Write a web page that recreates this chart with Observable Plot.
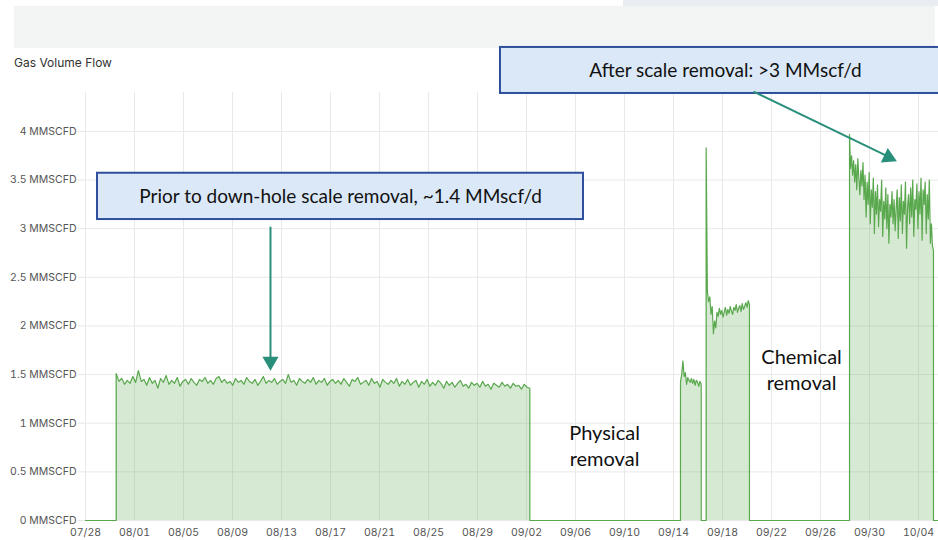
<!DOCTYPE html>
<html><head><meta charset="utf-8">
<script src="https://cdn.jsdelivr.net/npm/d3@7"></script>
<script src="https://cdn.jsdelivr.net/npm/@observablehq/plot@0.6"></script>
<style>
body{margin:0;background:#fff;}
#wrap{position:relative;width:938px;height:540px;overflow:hidden;font-family:Inter,sans-serif;}
#corner{position:absolute;left:623px;top:0;width:315px;height:6px;background:#e9ecf0;}
#band{position:absolute;left:14px;top:6px;width:921px;height:42px;background:#f3f4f4;}
#title{position:absolute;left:14px;top:55px;font-size:12px;line-height:15px;color:#333;}
#chart{position:absolute;left:0;top:0;}
</style></head>
<body>
<div id="wrap">
  <div id="corner"></div>
  <div id="band"></div>
  <div id="title">Gas Volume Flow</div>
  <div id="chart"></div>
</div>
<script>
// ---- axis ticks ----
const xTickLabels = ["07/28","08/01","08/05","08/09","08/13","08/17","08/21","08/25","08/29","09/02","09/06","09/10","09/14","09/18","09/22","09/26","09/30","10/04"];
const yTickValues = [0,0.5,1,1.5,2,2.5,3,3.5,4];
const yUnit = "MMSCFD";
const domainStart = "2024-07-28T00:00Z";
const domainEnd = "2024-10-05T15:10Z";

// ---- flow periods (MMSCFD) ----
const beforeStart = "2024-07-30T12:10Z", beforeEnd = "2024-09-02T06:30Z";
const beforeFlow = [
 1.51,1.43,1.46,1.40,1.44,1.41,1.48,1.42,1.54,1.43,
 1.45,1.39,1.47,1.41,1.44,1.36,1.46,1.42,1.49,1.40,
 1.44,1.41,1.47,1.38,1.43,1.45,1.40,1.46,1.42,1.39,
 1.45,1.43,1.47,1.41,1.44,1.40,1.46,1.48,1.42,1.45,
 1.41,1.43,1.39,1.46,1.42,1.44,1.40,1.47,1.43,1.41,
 1.45,1.39,1.43,1.48,1.41,1.44,1.42,1.46,1.40,1.43,
 1.45,1.41,1.50,1.42,1.44,1.39,1.46,1.43,1.41,1.45,
 1.42,1.47,1.40,1.44,1.42,1.46,1.39,1.43,1.45,1.41,
 1.44,1.40,1.46,1.42,1.38,1.45,1.43,1.47,1.40,1.42,
 1.44,1.39,1.46,1.41,1.43,1.37,1.45,1.42,1.40,1.44,
 1.41,1.46,1.38,1.43,1.40,1.45,1.39,1.42,1.44,1.37,
 1.43,1.40,1.45,1.38,1.42,1.39,1.44,1.41,1.36,1.43,
 1.39,1.42,1.37,1.41,1.44,1.38,1.40,1.36,1.42,1.39,
 1.41,1.37,1.43,1.38,1.40,1.35,1.41,1.39,1.37,1.42,
 1.38,1.40,1.36,1.41,1.38,1.39,1.35,1.40,1.37,1.36];

const trialStart = "2024-09-14T13:40Z", trialEnd = "2024-09-16T06:15Z";
const trialFlow = [1.42,1.50,1.64,1.48,1.52,1.40,1.47,1.44,1.42,1.46,1.41,1.45,1.39,1.44,1.42,1.38,1.43,1.40];

const chemStart = "2024-09-16T16:00Z", chemEnd = "2024-09-20T04:50Z";
const chemFlow = [3.83,2.35,2.25,2.30,2.12,2.20,1.92,2.05,1.98,2.14,2.10,2.18,2.12,2.16,2.09,2.14,2.19,2.11,2.17,2.13,2.20,2.15,2.12,2.19,2.16,2.22,2.14,2.18,2.21,2.15,2.23,2.17,2.20,2.24,2.19,2.26,2.22];

const afterStart = "2024-09-28T08:50Z", afterEnd = "2024-10-05T05:20Z";
const afterFlow = [3.97,3.62,3.75,3.55,3.70,3.48,3.66,3.40,3.72,3.52,3.35,3.60,3.44,3.68,3.30,3.55,3.12,3.48,3.25,3.58,3.05,3.40,3.22,3.52,2.95,3.38,3.15,3.45,3.02,3.30,3.18,3.50,2.92,3.28,3.10,3.42,3.00,3.35,2.85,3.25,3.12,3.38,3.05,3.30,2.98,3.20,3.40,2.90,3.32,3.08,3.45,2.95,3.28,3.15,3.48,2.80,3.22,3.35,3.05,3.42,3.12,3.50,2.92,3.30,3.20,3.46,3.00,3.38,3.15,3.52,2.88,3.40,3.25,3.48,2.95,3.35,3.10,3.50,2.85,3.05,2.82,2.78];

// ---- annotations (data coordinates) ----
const noteBefore = {text:"Prior to down-hole scale removal, ~1.4 MMscf/d", x1:"2024-07-28T23:30Z", x2:"2024-09-06T15:40Z", y1:3.094, y2:3.57, tx:"2024-08-17T19:40Z", ty:3.331};
const noteAfter = {text:"After scale removal: >3 MMscf/d", x1:"2024-08-30T21:00Z", x2:"2024-10-12T00:00Z", y1:4.39, y2:4.863, tx:"2024-09-18T05:45Z", ty:4.626};
const arrowBefore = {x1:"2024-08-12T02:25Z", y1:3.02, x2:"2024-08-12T02:25Z", y2:1.676, hx:"2024-08-12T02:25Z", hy:1.635, rot:180};
const arrowAfter = {x1:"2024-09-20T12:45Z", y1:4.41, x2:"2024-10-01T17:00Z", y2:3.73, hx:"2024-10-01T13:10Z", hy:3.735, rot:115.6};
const labels = [
  {text:"Physical\nremoval", x:"2024-09-08T08:50Z", y:0.781},
  {text:"Chemical\nremoval", x:"2024-09-24T10:50Z", y:1.557}
];

// ---- build ----
const D = s => new Date(s);
const parseTick = d3.utcParse("%Y/%m/%d");
const xTicks = xTickLabels.map(s => parseTick("2024/" + s));
const flow = [{t:D(domainStart), v:0}];
function addPeriod(start, end, values){
  const a = D(start).getTime(), b = D(end).getTime();
  flow.push({t:new Date(a), v:0});
  values.forEach((v,i) => flow.push({t:new Date(a + (b-a)*i/(values.length-1)), v}));
  flow.push({t:new Date(b), v:0});
}
addPeriod(beforeStart, beforeEnd, beforeFlow);
addPeriod(trialStart, trialEnd, trialFlow);
addPeriod(chemStart, chemEnd, chemFlow);
addPeriod(afterStart, afterEnd, afterFlow);
flow.push({t:D(domainEnd), v:0});

const notes = [noteBefore, noteAfter].map(n => ({...n, x1:D(n.x1), x2:D(n.x2), tx:D(n.tx)}));
const arrows = [arrowBefore, arrowAfter].map(a => ({...a, x1:D(a.x1), x2:D(a.x2), hx:D(a.hx)}));
const labs = labels.map(l => ({...l, x:D(l.x)}));
const teal = "#2a8f7a";

const chart = Plot.plot({
  width: 938, height: 540,
  marginTop: 92, marginBottom: 20, marginLeft: 85, marginRight: 0,
  style: {background:"transparent", fontFamily:"Inter, sans-serif", fontSize:"10.5px", color:"#555", overflow:"visible"},
  x: {type:"utc", domain:[D(domainStart), D(domainEnd)]},
  y: {domain:[0,4.4]},
  marks: [
    Plot.gridX(xTicks, {stroke:"#e9e9e9", strokeOpacity:1}),
    Plot.gridY(yTickValues, {stroke:"#e9e9e9", strokeOpacity:1}),
    Plot.axisX(xTicks, {tickSize:0, tickPadding:8, tickFormat:d3.utcFormat("%m/%d"), label:null, fill:"#555"}),
    Plot.axisY(yTickValues, {tickSize:7, tickPadding:2, stroke:"#e6e6e6", tickFormat:d => `${d} ${yUnit}`, label:null, fill:"#555"}),
    Plot.areaY(flow, {x:"t", y:"v", fill:"#5aad4e", fillOpacity:0.25}),
    Plot.lineY(flow, {x:"t", y:"v", stroke:"#5aa84e", strokeWidth:1.2}),
    Plot.rect(notes, {x1:"x1", x2:"x2", y1:"y1", y2:"y2", fill:"#dae8f7", stroke:"#2f4f9c", strokeWidth:2}),
    Plot.text(notes, {x:"tx", y:"ty", text:"text", fontSize:19, fontFamily:"Lato, sans-serif", fill:"#111"}),
    Plot.link(arrows, {x1:"x1", y1:"y1", x2:"x2", y2:"y2", stroke:teal, strokeWidth:2}),
    Plot.dot(arrows, {x:"hx", y:"hy", symbol:"triangle", r:6, fill:teal, stroke:null, rotate:"rot"}),
    Plot.text(labs, {x:"x", y:"y", text:"text", fontSize:20, lineHeight:1.3, fontFamily:"Lato, sans-serif", fill:"#111"})
  ]
});
document.getElementById("chart").append(chart);
</script>
</body></html>
